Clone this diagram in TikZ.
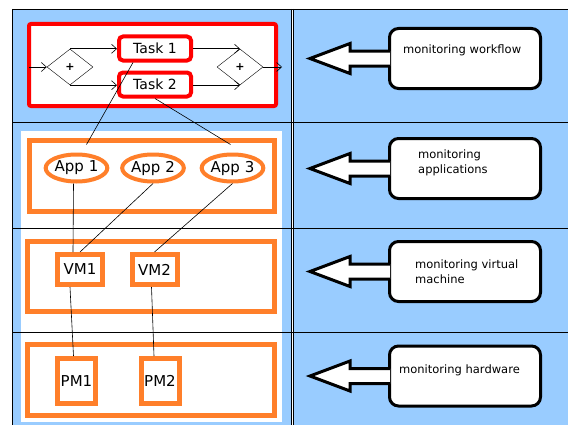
\documentclass[tikz,border=0pt]{standalone}
\usepackage{fontspec}
\setmainfont{DejaVu Sans}
\usetikzlibrary{arrows.meta,shapes.geometric}
\definecolor{laneblue}{RGB}{153,204,255}
\definecolor{boxorange}{RGB}{255,127,42}
\begin{document}
\begin{tikzpicture}[x=1pt,y=-1pt,
	wflow/.style={draw=red, line width=4pt, fill=white, rounded corners=2pt},
	tasknode/.style={draw=red, line width=4pt, rounded corners=4pt, fill=white, inner sep=0pt,
		minimum width=72pt, minimum height=24pt, font=\fontsize{14}{14}\selectfont},
	gatenode/.style={draw, diamond, inner sep=0pt, minimum width=46pt, minimum height=36pt,
		fill=white, font=\bfseries\fontsize{11}{11}\selectfont},
	flow/.style={-{Straight Barb[length=5pt,width=9pt]}, line width=0.6pt},
	layer/.style={draw=boxorange, line width=5pt},
	appnode/.style={draw=boxorange, ellipse, line width=4pt, fill=white, inner sep=0pt,
		minimum width=61pt, minimum height=27pt, font=\fontsize{15}{15}\selectfont},
	vmnode/.style={draw=boxorange, line width=5pt, fill=white, inner sep=0pt,
		minimum width=45pt, minimum height=30pt, font=\fontsize{15}{15}\selectfont},
	pmnode/.style={draw=boxorange, line width=5pt, fill=white, inner sep=0pt,
		minimum width=38pt, minimum height=45pt, font=\fontsize{15}{15}\selectfont},
	link/.style={line width=0.6pt},
	callout/.style={draw, line width=3pt, rounded corners=9pt, fill=white,
		minimum width=151pt, minimum height=60pt},
	calltext/.style={anchor=west, align=left, inner sep=0pt, font=\fontsize{11.5}{15}\selectfont},
	blockarrow/.style={draw, line width=3pt, fill=white, line join=miter}]
	\useasboundingbox (0,0) rectangle (569,428);

	% lanes
	\fill[laneblue] (12,9) rectangle (291,425);
	\fill[laneblue] (293,9) rectangle (568,425);
	\fill[white] (21,131) rectangle (282,422);
	\draw[line width=0.9pt] (12,9) -- (568,9);
	\draw[line width=0.9pt] (12,122) -- (568,122);
	\draw[line width=0.9pt] (12,228) -- (568,228);
	\draw[line width=0.9pt] (12,332) -- (568,332);
	\draw[line width=0.9pt] (12,9) -- (12,425);
	\draw[line width=0.7pt] (291,9) -- (291,425);
	\draw[line width=0.7pt] (293.5,9) -- (293.5,425);

	% workflow
	\draw[wflow] (29,24) rectangle (276,106);
	\node[gatenode] (gin) at (70,67) {+};
	\node[gatenode] (gout) at (240,67) {+};
	\node[tasknode] (t1) at (155,48.5) {Task 1};
	\node[tasknode] (t2) at (155,84.5) {Task 2};
	\coordinate (wstart) at (29,67);
	\coordinate (wend) at (282,67);
	\draw[flow] (wstart) -- (gin.west);
	\draw[flow] (gin.north) -- (gin.north -| t1.west);
	\draw[flow] (gin.south) -- (gin.south -| t2.west);
	\draw[flow] (t1.east |- gout.north) -- (gout.north);
	\draw[flow] (t2.east |- gout.south) -- (gout.south);
	\draw[flow] (gout.east) -- (wend);

	% layers
	\draw[layer] (29.5,140.5) rectangle (274.5,211.5);
	\draw[layer] (27.5,241.5) rectangle (274.5,311.5);
	\draw[layer] (27.5,344.5) rectangle (274.5,415.5);

	\node[appnode] (a1) at (76.5,168) {App 1};
	\node[appnode] (a2) at (153,168) {App 2};
	\node[appnode] (a3) at (232.5,168) {App 3};
	\node[vmnode] (vm1) at (80,269.5) {VM1};
	\node[vmnode] (vm2) at (154.5,269.5) {VM2};
	\node[pmnode] (pm1) at (76.5,381) {PM1};
	\node[pmnode] (pm2) at (160,381) {PM2};

	\draw[link] ([xshift=-22pt]t1.south) -- ([xshift=10pt,yshift=8pt]a1.north);
	\draw[link] (t2.south) -- ([xshift=-2pt,yshift=8pt]a3.north);
	\draw[link] ([xshift=-3pt]a1.south) -- ([xshift=-7pt]vm1.north);
	\draw[link] (a2.south) -- (vm1.north);
	\draw[link] (a3.south) -- (vm2.north);
	\draw[link] ([xshift=-10pt]vm1.south) -- ([xshift=-3pt]pm1.north);
	\draw[link] ([xshift=-3pt]vm2.south) -- ([xshift=-6pt]pm2.north);

	% monitoring callouts
	\node[callout] (c1) at (465,58.5) {};
	\node[callout] (c2) at (465,168.5) {};
	\node[callout] (c3) at (465,271.5) {};
	\node[callout] (c4) at (465,376) {};
	\draw[blockarrow] ([xshift=2pt,yshift=7.5pt]c1.west) -- ++(-40,0) -- ++(0,-7.5) -- ++(-40,15) -- ++(40,15) -- ++(0,-7.5) -- ++(40,0);
	\draw[blockarrow] ([xshift=2pt,yshift=7.5pt]c2.west) -- ++(-40,0) -- ++(0,-7.5) -- ++(-40,15) -- ++(40,15) -- ++(0,-7.5) -- ++(40,0);
	\draw[blockarrow] ([xshift=2pt,yshift=7.5pt]c3.west) -- ++(-40,0) -- ++(0,-7.5) -- ++(-40,15) -- ++(40,15) -- ++(0,-7.5) -- ++(40,0);
	\draw[blockarrow] ([xshift=2pt,yshift=7.5pt]c4.west) -- ++(-40,0) -- ++(0,-7.5) -- ++(-40,15) -- ++(40,15) -- ++(0,-7.5) -- ++(40,0);
	\node[calltext] (l1) at (403,50) {monitoring workflow};
	\node[calltext] (l2) at (418,162.5) {monitoring\\applications};
	\node[calltext] (l3) at (415,272) {monitoring virtual\\machine};
	\node[calltext] (l4) at (399,370) {monitoring hardware};
\end{tikzpicture}
\end{document}
